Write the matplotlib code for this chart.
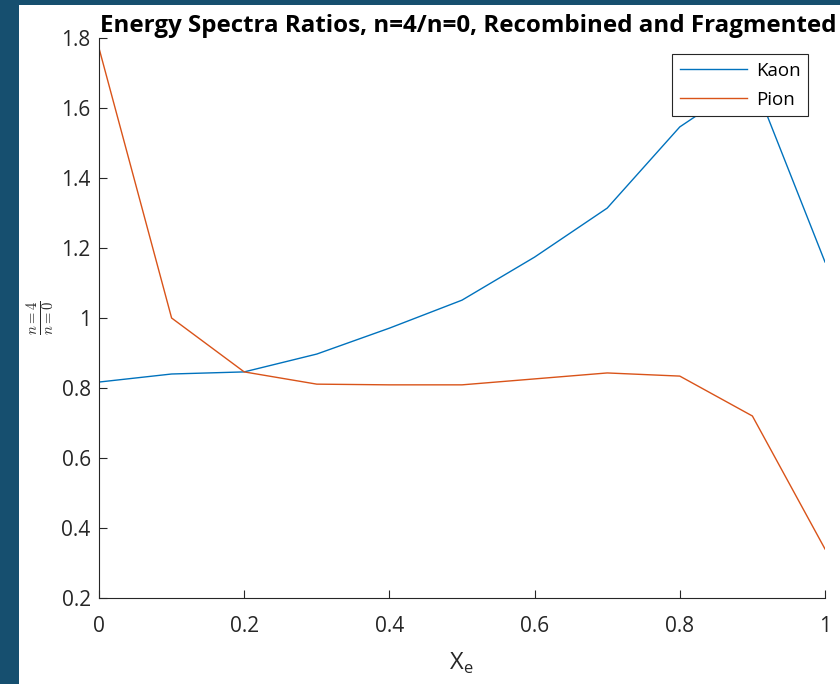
import matplotlib
matplotlib.use("Agg")
import matplotlib.pyplot as plt
from matplotlib.patches import Rectangle

x_e = [0.0, 0.1, 0.2, 0.3, 0.4, 0.5, 0.6, 0.7, 0.8, 0.9, 1.0]
kaon = [0.817, 0.840, 0.846, 0.897, 0.971, 1.051, 1.174, 1.314, 1.546, 1.685, 1.160]
pion = [1.771, 1.000, 0.846, 0.811, 0.809, 0.809, 0.826, 0.843, 0.834, 0.720, 0.340]
xticks = [0, 0.2, 0.4, 0.6, 0.8, 1]
xtick_labels = ["0", "0.2", "0.4", "0.6", "0.8", "1"]
yticks = [0.2, 0.4, 0.6, 0.8, 1.0, 1.2, 1.4, 1.6, 1.8]
ytick_labels = ["0.2", "0.4", "0.6", "0.8", "1", "1.2", "1.4", "1.6", "1.8"]

plt.rcParams['font.family'] = ['Open Sans', 'DejaVu Sans']
plt.rcParams['mathtext.fontset'] = 'cm'

W, H = 840, 684
fig = plt.figure(figsize=(W / 100, H / 100), dpi=100)
fig.patch.set_facecolor('#164f6f')
fig.add_artist(Rectangle((19 / W, 0), 1 - 19 / W, 1 - 5 / H, transform=fig.transFigure,
                         facecolor='white', edgecolor='none', zorder=-10))

ax = fig.add_axes([99 / W, 1 - 598 / H, (825 - 99) / W, (598 - 38) / H])
ax.set_facecolor('white')
ax.plot(x_e, kaon, color='#0072BD', lw=1.0, label='Kaon')
ax.plot(x_e, pion, color='#D95319', lw=1.0, label='Pion')

ax.set_xlim(0, 1)
ax.set_ylim(0.2, 1.8)
ax.set_xticks(xticks)
ax.set_xticklabels(xtick_labels)
ax.set_yticks(yticks)
ax.set_yticklabels(ytick_labels)
for s in ['top', 'right']:
    ax.spines[s].set_visible(False)
for s in ['left', 'bottom']:
    ax.spines[s].set_color('#262626')
    ax.spines[s].set_linewidth(0.8)
ax.tick_params(direction='in', length=6, width=0.8, colors='#262626', labelsize=15)
ax.tick_params(axis='x', pad=13)
ax.tick_params(axis='y', pad=6)

ax.set_title('Energy Spectra Ratios, n=4/n=0, Recombined and Fragmented',
             fontsize=17.4, fontweight='bold', pad=2, x=0.508)
ax.set_xlabel(r'X$_{\mathregular{e}}$', fontsize=17, color='#262626', labelpad=10)
ax.set_ylabel(r'$\frac{n=4}{n=0}$', fontsize=15, color='#262626', labelpad=3)

leg = ax.legend(loc='upper right', bbox_to_anchor=(808 / W, 1 - 54 / H),
                bbox_transform=fig.transFigure, fontsize=13.5, fancybox=False,
                framealpha=1, edgecolor='#262626', handlelength=3.6,
                borderpad=0.4, labelspacing=0.6, handletextpad=0.45, borderaxespad=0)
leg.get_frame().set_linewidth(0.8)

fig.savefig('out.png', dpi=100, facecolor=fig.get_facecolor())
